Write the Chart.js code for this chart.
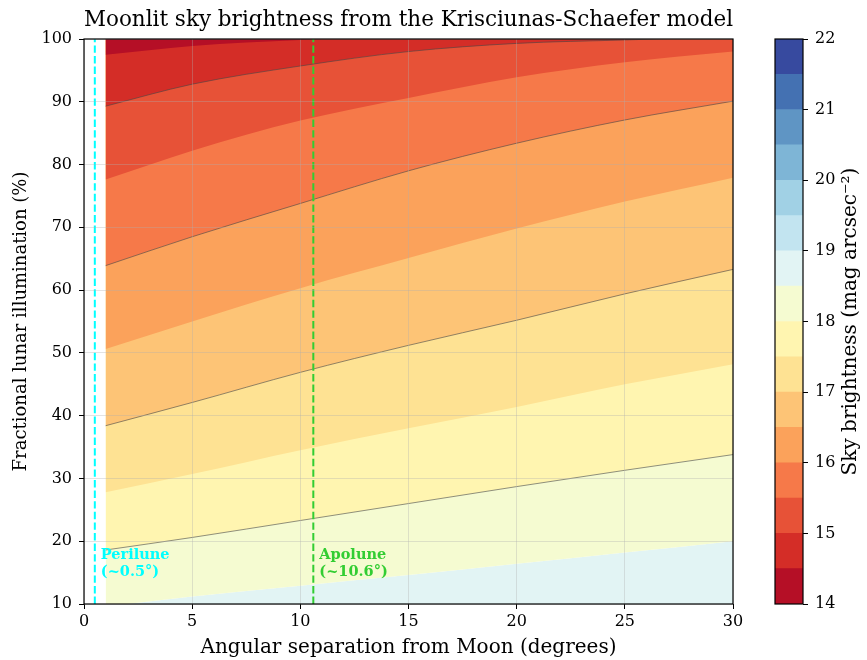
<!DOCTYPE html>
<html>
<head>
<meta charset="utf-8">
<script src="https://cdn.jsdelivr.net/npm/chart.js@4.4.1/dist/chart.umd.min.js"></script>
<style>
  html, body { margin: 0; padding: 0; background: #fff; }
  #wrap { position: relative; width: 867px; height: 660px; }
  #main { position: absolute; left: 0; top: 0; }
  #cbar { position: absolute; left: 760px; top: 0; }
</style>
</head>
<body>
<div id="wrap">
  <canvas id="main" width="760" height="660"></canvas>
  <canvas id="cbar" width="107" height="660"></canvas>
</div>
<script>
// Angular separation from the Moon (degrees) at which each contour is sampled
const separation = [1, 5, 10, 15, 20, 25, 30];

// Fractional lunar illumination (%) along each sky-brightness contour (mag arcsec^-2)
const contour14_5 = [97.5, 98.9, 99.85, 100.5, 100.9, 101.3, 101.6];
const contour15   = [89.3, 92.8, 95.7, 98.0, 99.3, 99.85, 100.4];
const contour15_5 = [77.6, 82.2, 87.0, 90.6, 93.9, 96.3, 98.0];
const contour16   = [63.9, 68.5, 73.8, 79.0, 83.4, 87.1, 90.1];
const contour16_5 = [50.6, 55.0, 60.3, 65.1, 69.8, 74.1, 77.9];
const contour17   = [38.4, 42.1, 46.9, 51.2, 55.2, 59.4, 63.3];
const contour17_5 = [27.8, 30.7, 34.5, 38.0, 41.4, 45.0, 48.2];
const contour18   = [18.6, 20.6, 23.3, 26.0, 28.7, 31.3, 33.8];
const contour18_5 = [9.6, 11.2, 12.9, 14.6, 16.4, 18.2, 20.0];

// Filled-contour levels and the RdYlBu colour of each band between them
const levels = [14, 14.5, 15, 15.5, 16, 16.5, 17, 17.5, 18, 18.5, 19, 19.5, 20, 20.5, 21, 21.5, 22];
const bandColors = [
  '#b50f26', '#d42d27', '#e75237', '#f67949', '#fba25b', '#fdc476', '#fee293', '#fff5b0',
  '#f5fbd1', '#e2f4f4', '#c2e4f0', '#a1d1e5', '#7eb5d6', '#5f95c4', '#4471b2', '#374a9f'
];
const colorbarTicks = [14, 15, 16, 17, 18, 19, 20, 21, 22];

// Moon distance markers
const markerNames  = ['Perilune', 'Apolune'];
const markerValues = [0.5, 10.6];
const markerLabels = ['(~0.5°)', '(~10.6°)'];
const markerColors = ['#00ffff', '#32cd32'];

const SERIF = '"DejaVu Serif", "Liberation Serif", serif';

const contours = [
  { level: 14.5, y: contour14_5 },
  { level: 15,   y: contour15 },
  { level: 15.5, y: contour15_5 },
  { level: 16,   y: contour16 },
  { level: 16.5, y: contour16_5 },
  { level: 17,   y: contour17 },
  { level: 17.5, y: contour17_5 },
  { level: 18,   y: contour18 },
  { level: 18.5, y: contour18_5 }
];

const toPoints = ys => separation.map((x, j) => ({ x: x, y: ys[j] }));

const datasets = [];

// vertical dashed markers (index first so they are drawn on top)
markerValues.forEach((v, i) => {
  datasets.push({
    label: markerNames[i],
    data: [{ x: v, y: 10 }, { x: v, y: 100 }],
    borderColor: markerColors[i],
    borderWidth: 2,
    borderDash: [7.4, 3.2],
    pointRadius: 0,
    fill: false
  });
});

// each contour fills everything above it with the brighter band's colour;
// fills are painted from the faintest level upward so each one overlays the last
contours.forEach(c => {
  const idx = levels.indexOf(c.level);
  const integerLevel = Number.isInteger(c.level);
  datasets.push({
    label: String(c.level),
    data: toPoints(c.y),
    cubicInterpolationMode: 'monotone',
    borderColor: integerLevel ? 'rgba(70,70,70,0.75)' : 'rgba(0,0,0,0)',
    borderWidth: integerLevel ? 0.8 : 0.01,
    pointRadius: 0,
    backgroundColor: bandColors[idx - 1],
    fill: 'end'
  });
});

// faintest band, below the last contour
datasets.push({
  label: 'below 18.5',
  data: toPoints(contour18_5),
  cubicInterpolationMode: 'monotone',
  borderWidth: 0.01,
  borderColor: 'rgba(0,0,0,0)',
  pointRadius: 0,
  backgroundColor: bandColors[levels.indexOf(18.5)],
  fill: 'start'
});

const markerText = {
  id: 'markerText',
  afterDatasetsDraw(chart) {
    const { ctx, scales } = chart;
    ctx.save();
    ctx.font = 'bold 14.5px ' + SERIF;
    ctx.textAlign = 'left';
    ctx.textBaseline = 'middle';
    markerValues.forEach((v, i) => {
      const px = scales.x.getPixelForValue(v) + 6;
      const py = scales.y.getPixelForValue(17.8);
      ctx.fillStyle = markerColors[i];
      ctx.fillText(markerNames[i], px, py);
      ctx.fillText(markerLabels[i], px, py + 17);
    });
    ctx.restore();
  }
};

// black frame round the plotting area, on top of everything
const frame = {
  id: 'frame',
  afterDraw(chart) {
    const { ctx, chartArea: a } = chart;
    ctx.save();
    ctx.strokeStyle = '#000';
    ctx.lineWidth = 1.2;
    ctx.strokeRect(a.left, a.top, a.right - a.left, a.bottom - a.top);
    ctx.restore();
  }
};

const gridColor = 'rgba(176,176,176,0.35)';

new Chart(document.getElementById('main'), {
  type: 'line',
  data: { datasets: datasets },
  options: {
    responsive: false,
    animation: false,
    devicePixelRatio: 1,
    layout: { padding: { right: 27 } },
    plugins: {
      legend: { display: false },
      tooltip: { enabled: false },
      filler: { drawTime: 'beforeDatasetsDraw', propagate: false },
      title: {
        display: true,
        fullSize: false,
        text: 'Moonlit sky brightness from the Krisciunas-Schaefer model',
        color: '#000',
        font: { family: SERIF, size: 22, weight: 'normal', lineHeight: 1.2 },
        padding: { top: 7.5, bottom: 5.1 }
      }
    },
    scales: {
      x: {
        type: 'linear',
        min: 0, max: 30,
        ticks: { stepSize: 5, color: '#000', padding: 3, font: { family: SERIF, size: 16 } },
        grid: { z: 1, color: gridColor, tickColor: '#000', tickLength: 5, lineWidth: 1 },
        border: { display: false },
        title: {
          display: true,
          text: 'Angular separation from Moon (degrees)',
          color: '#000',
          font: { family: SERIF, size: 20, lineHeight: 1.2 },
          padding: { top: 0, bottom: 0 }
        },
        afterFit(s) { s.height = 56; }
      },
      y: {
        type: 'linear',
        min: 10, max: 100,
        ticks: { stepSize: 10, color: '#000', padding: 7, font: { family: SERIF, size: 16 } },
        grid: { z: 1, color: gridColor, tickColor: '#000', tickLength: 5, lineWidth: 1 },
        border: { display: false },
        title: {
          display: true,
          text: 'Fractional lunar illumination (%)',
          color: '#000',
          font: { family: SERIF, size: 18, lineHeight: 1.2 },
          padding: { top: 11 }
        },
        afterFit(s) { s.width = 84; }
      }
    }
  },
  plugins: [markerText, frame]
});

// colour bar: one floating bar per band between consecutive levels
const cbarLabel = {
  id: 'cbarLabel',
  afterDraw(chart) {
    const { ctx, chartArea } = chart;
    ctx.save();
    ctx.translate(91, (chartArea.top + chartArea.bottom) / 2);
    ctx.rotate(-Math.PI / 2);
    ctx.font = '20px ' + SERIF;
    ctx.fillStyle = '#000';
    ctx.textAlign = 'center';
    ctx.textBaseline = 'middle';
    ctx.fillText('Sky brightness (mag arcsec⁻²)', 0, 0);
    ctx.restore();
  }
};

new Chart(document.getElementById('cbar'), {
  type: 'bar',
  data: {
    labels: [''],
    datasets: bandColors.map((c, k) => ({
      label: levels[k] + '–' + levels[k + 1],
      data: [[levels[k], levels[k + 1]]],
      backgroundColor: c,
      borderWidth: 0,
      barPercentage: 1,
      categoryPercentage: 1,
      grouped: false
    }))
  },
  options: {
    responsive: false,
    animation: false,
    devicePixelRatio: 1,
    layout: { padding: { left: 15, top: 39, bottom: 56, right: 0 } },
    plugins: { legend: { display: false }, tooltip: { enabled: false }, title: { display: false } },
    scales: {
      x: { display: false },
      y: {
        position: 'right',
        min: 14, max: 22,
        afterBuildTicks(s) { s.ticks = colorbarTicks.map(v => ({ value: v })); },
        ticks: { color: '#000', padding: 7, font: { family: SERIF, size: 16 } },
        grid: { drawOnChartArea: false, drawTicks: true, tickLength: 5, tickColor: '#000' },
        border: { display: false },
        afterFit(s) { s.width = 64; }
      }
    }
  },
  plugins: [frame, cbarLabel]
});
</script>
</body>
</html>
